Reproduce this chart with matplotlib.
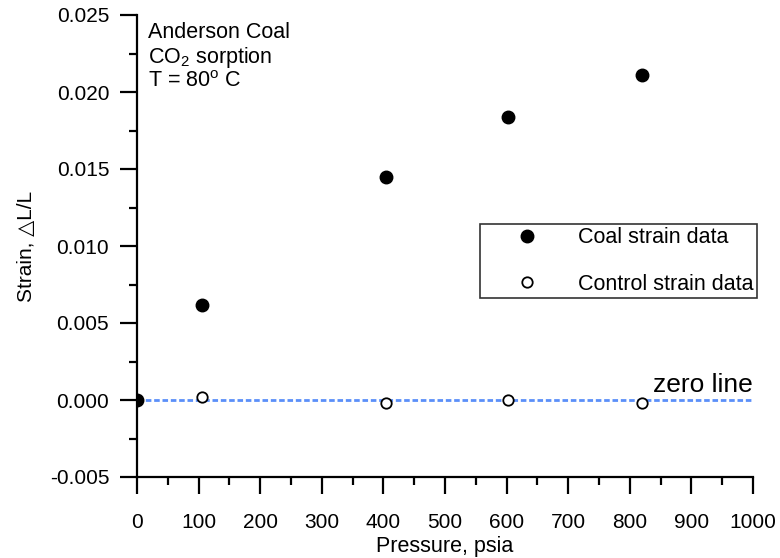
import matplotlib
matplotlib.use("Agg")
import matplotlib.pyplot as plt
from matplotlib.ticker import MultipleLocator, FormatStrFormatter

plt.rcParams['font.family'] = ['Liberation Sans', 'DejaVu Sans']
plt.rcParams['mathtext.fontset'] = 'custom'
plt.rcParams['mathtext.rm'] = 'Liberation Sans'
plt.rcParams['mathtext.it'] = 'Liberation Sans'

# data
pressure = [0, 105, 405, 603, 820]
coal_strain = [0.0, 0.0062, 0.0145, 0.0184, 0.0211]
control_strain = [0.0, 0.0002, -0.0002, 0.0, -0.0002]
zero_x = [0, 1000]
zero_y = [0, 0]

fig = plt.figure(figsize=(7.8, 5.58), dpi=100)
ax = fig.add_axes([137 / 780, 1 - 477 / 558, 616 / 780, 462 / 558])

ax.plot(zero_x, zero_y, color='#5b8ff9', lw=2, dashes=(2, 1), zorder=1)
ax.plot(pressure, control_strain, 'o', ms=7.5, mfc='white', mec='black', mew=1.3,
        label='Control strain data', zorder=2)
ax.plot(pressure, coal_strain, 'o', ms=9, color='black',
        label='Coal strain data', zorder=3)

ax.set_xlim(0, 1000)
ax.set_ylim(-0.005, 0.025)
ax.xaxis.set_major_locator(MultipleLocator(100))
ax.xaxis.set_minor_locator(MultipleLocator(50))
ax.yaxis.set_major_locator(MultipleLocator(0.005))
ax.yaxis.set_minor_locator(MultipleLocator(0.0025))
ax.yaxis.set_major_formatter(FormatStrFormatter('%.3f'))

for side in ['top', 'right']:
    ax.spines[side].set_visible(False)
for side in ['left', 'bottom']:
    ax.spines[side].set_linewidth(1.6)
ax.tick_params(which='major', direction='out', length=12, width=1.6, labelsize=15)
ax.tick_params(axis='x', which='major', pad=14)
ax.tick_params(axis='y', which='major', pad=8)
ax.tick_params(which='minor', direction='out', length=6, width=1.6)

ax.set_xlabel('Pressure, psia', fontsize=15.5, labelpad=3)
ax.set_ylabel('Strain, \u25b3L/L', fontsize=15, labelpad=10)

ax.text(0.018, 0.985, 'Anderson Coal\nCO$_2$ sorption\nT = 80$^{\\mathrm{o}}$ C',
        transform=ax.transAxes, ha='left', va='top', fontsize=15.5, linespacing=1.1)
ax.text(1000, 0.0002, 'zero line', ha='right', va='bottom', fontsize=19)

h, l = ax.get_legend_handles_labels()
leg = ax.legend(h[::-1], l[::-1], loc='upper right', bbox_to_anchor=(1.006, 0.548),
                fontsize=15.5, frameon=True, fancybox=False, borderaxespad=0,
                borderpad=0.15, handlelength=4.1, handletextpad=0.3, labelspacing=1.2)
leg.get_frame().set_edgecolor('black')
leg.get_frame().set_linewidth(1.2)

fig.savefig('out.png', dpi=100)
